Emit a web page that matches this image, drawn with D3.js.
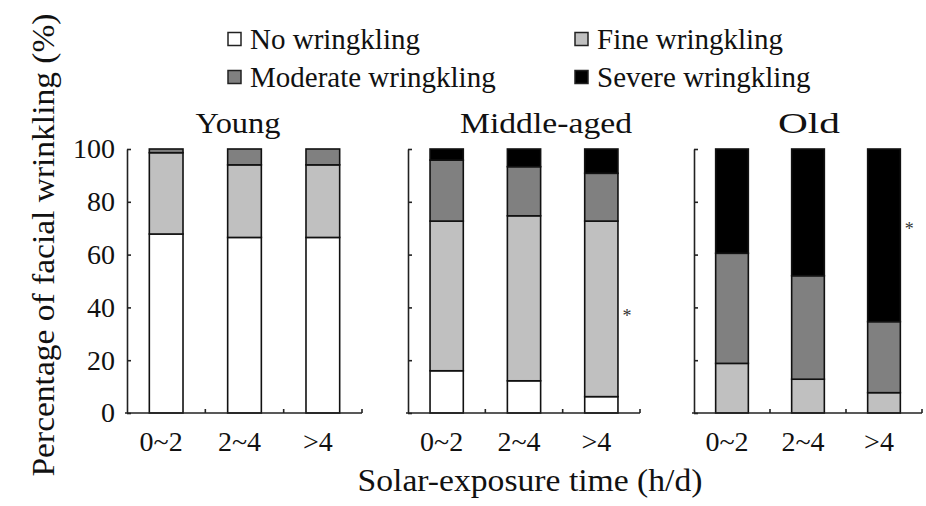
<!DOCTYPE html>
<html>
<head>
<meta charset="utf-8">
<script src="https://cdn.jsdelivr.net/npm/d3@7"></script>
<style>
  body { margin: 0; background: #fff; }
  svg { display: block; font-family: "Liberation Serif", "Times New Roman", serif; }
</style>
</head>
<body>
<div class="chart"></div>
<script>
const width = 926;
const height = 506;

// data (%)
const groups = ["Young", "Middle-aged", "Old"];
const categories = ["0~2", "2~4", ">4"];
const levels = ["No wringkling", "Fine wringkling", "Moderate wringkling", "Severe wringkling"];
const noWrinkle = [[67.8, 66.5, 66.5], [16.0, 12.2, 6.2], [0, 0, 0]];
const fineWrinkle = [[30.8, 27.5, 27.5], [56.7, 62.5, 66.5], [18.8, 12.8, 7.7]];
const moderateWrinkle = [[1.4, 6.0, 6.0], [23.1, 18.6, 18.1], [41.7, 39.2, 26.9]];
const severeWrinkle = [[0, 0, 0], [4.2, 6.7, 9.2], [39.5, 48.0, 65.4]];
const yTicks = [0, 20, 40, 60, 80, 100];
// significance marks: [group, category, value]
const stars = [[1, ">4", 38], [2, ">4", 71]];

const COLORS = ["#ffffff", "#c0c0c0", "#808080", "#000000"];
const series = [noWrinkle, fineWrinkle, moderateWrinkle, severeWrinkle];

const svg = d3.select(".chart").append("svg").attr("width", width).attr("height", height);

const panelX = [127, 408, 694];
const panelW = [235, 232, 228];
const titleX = [238, 546, 809];
const titleLen = [85, 172, 62];
const plotTop = 149, plotBottom = 413;

const y = d3.scaleLinear().domain([0, 100]).range([plotBottom, plotTop]);

groups.forEach((grp, gi) => {
    const g = svg.append("g").attr("transform", `translate(${panelX[gi]},0)`);
    const x = d3.scaleBand().domain(categories).range([0, panelW[gi]]).paddingInner(0.57).paddingOuter(0.285);

    // stacked bars
    const rows = categories.map((c, ci) => {
        let r = { cat: c };
        levels.forEach((l, li) => r[l] = series[li][gi][ci]);
        return r;
    });
    const stacked = d3.stack().keys(levels)(rows);
    stacked.forEach((s, li) => {
        g.selectAll(null).data(s.filter(d => d[1] - d[0] > 0)).enter().append("rect")
            .attr("x", d => x(d.data.cat))
            .attr("width", x.bandwidth())
            .attr("y", d => y(d[1]))
            .attr("height", d => y(d[0]) - y(d[1]))
            .attr("fill", COLORS[li])
            .attr("stroke", "#111")
            .attr("stroke-width", 1.6);
    });

    // y axis
    const yAxis = d3.axisLeft(y).tickValues(yTicks).tickSizeInner(-4).tickSizeOuter(0).tickPadding(12);
    if (gi > 0) yAxis.tickFormat("");
    const ya = g.append("g").call(yAxis);
    ya.select(".domain").attr("stroke", "#222").attr("stroke-width", 1.6);
    ya.selectAll(".tick line").attr("stroke", "#222").attr("stroke-width", 1.6);
    ya.selectAll("text").attr("font-size", 28).attr("fill", "#111").attr("font-family", "Liberation Serif");

    // x axis baseline with separator ticks
    g.append("line").attr("x1", -2).attr("x2", panelW[gi]).attr("y1", plotBottom).attr("y2", plotBottom)
        .attr("stroke", "#222").attr("stroke-width", 1.6);
    const seps = d3.range(1, categories.length + 1).map(i => x.step() * i);
    g.selectAll(null).data(seps).enter().append("line")
        .attr("x1", d => d).attr("x2", d => d)
        .attr("y1", plotBottom).attr("y2", plotBottom - 4)
        .attr("stroke", "#222").attr("stroke-width", 1.6);
    g.selectAll(null).data(categories).enter().append("text")
        .attr("x", d => x(d) + x.bandwidth() / 2 - 5)
        .attr("y", 451)
        .attr("text-anchor", "middle")
        .attr("font-size", 28)
        .attr("fill", "#111")
        .text(d => d);

    // asterisk
    stars.filter(s => s[0] === gi).forEach(([, cat, v]) => {
        g.append("text")
            .attr("x", x(cat) + x.bandwidth() + 9)
            .attr("y", y(v) + 9)
            .attr("text-anchor", "middle")
            .attr("font-size", 18)
            .attr("fill", "#333")
            .text("*");
    });

    // panel title
    svg.append("text")
        .attr("x", titleX[gi])
        .attr("y", 133)
        .attr("text-anchor", "middle")
        .attr("font-size", 30)
        .attr("textLength", titleLen[gi])
        .attr("lengthAdjust", "spacingAndGlyphs")
        .attr("fill", "#111")
        .text(grp);
});

// axis titles
svg.append("text")
    .attr("x", 530)
    .attr("y", 491)
    .attr("text-anchor", "middle")
    .attr("font-size", 31)
    .attr("textLength", 345)
    .attr("lengthAdjust", "spacingAndGlyphs")
    .attr("fill", "#111")
    .text("Solar-exposure time (h/d)");

svg.append("text")
    .attr("transform", "translate(54,245) rotate(-90)")
    .attr("text-anchor", "middle")
    .attr("font-size", 32)
    .attr("textLength", 463)
    .attr("lengthAdjust", "spacingAndGlyphs")
    .attr("fill", "#111")
    .text("Percentage of facial wrinkling (%)");

// legend
const legendPos = [[228, 39], [575, 39], [228, 77], [575, 77]];
levels.forEach((l, li) => {
    const [lx, ly] = legendPos[li];
    svg.append("rect")
        .attr("x", lx).attr("y", ly - 6.5)
        .attr("width", 13).attr("height", 13)
        .attr("fill", COLORS[li])
        .attr("stroke", "#222").attr("stroke-width", 1.5);
    svg.append("text")
        .attr("x", lx + 22)
        .attr("y", ly + 10)
        .attr("font-size", 29)
        .attr("fill", "#111")
        .text(l);
});
</script>
</body>
</html>
